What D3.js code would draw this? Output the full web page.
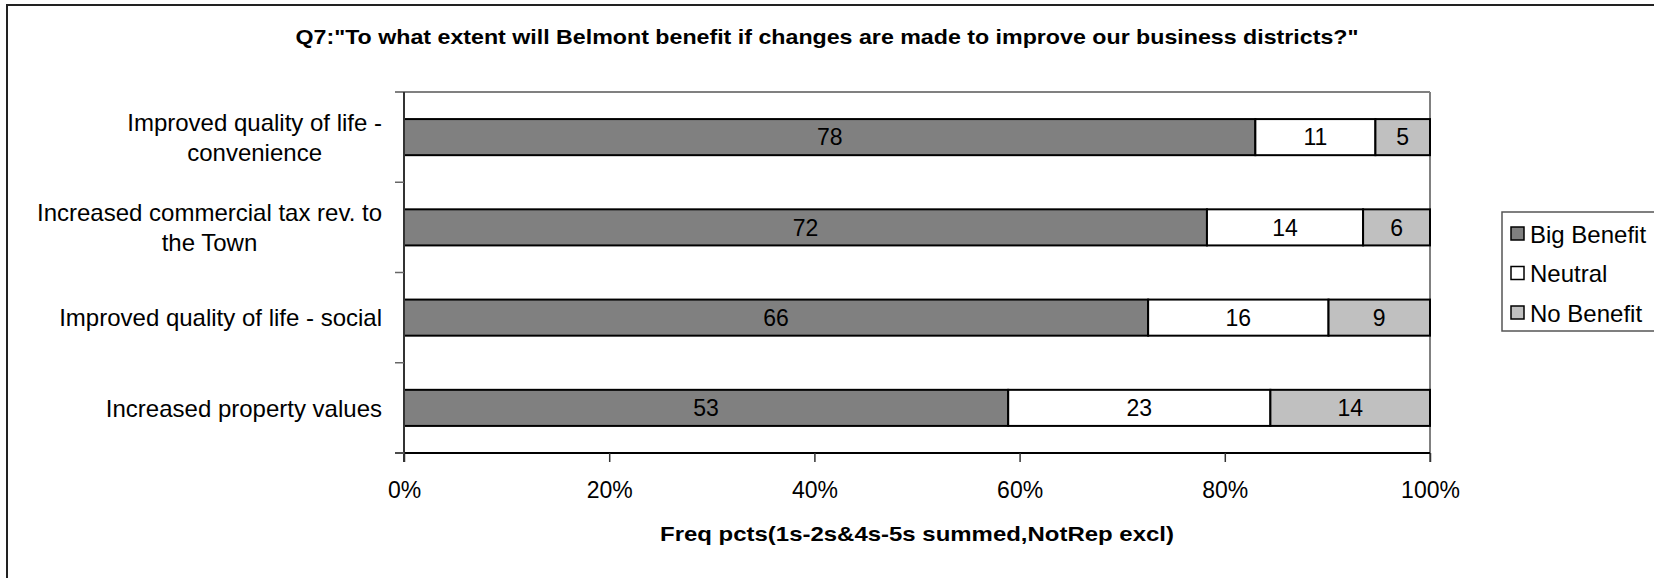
<!DOCTYPE html>
<html>
<head>
<meta charset="utf-8">
<script src="https://cdn.jsdelivr.net/npm/d3@7"></script>
<style>
  body { margin: 0; background: #fff; }
  svg { display: block; font-family: "Liberation Sans", Arial, sans-serif; }
</style>
</head>
<body>
<div id="chart"></div>
<script>
// data
const categories = [
        ['Improved quality of life -', 'convenience'],
        ['Increased commercial tax rev. to', 'the Town'],
        ['Improved quality of life - social'],
        ['Increased property values']
];
const seriesNames = ['Big Benefit', 'Neutral', 'No Benefit'];
const bigBenefit = [78, 72, 66, 53];
const neutral = [11, 14, 16, 23];
const noBenefit = [5, 6, 9, 14];
const xTicks = [0, 0.2, 0.4, 0.6, 0.8, 1];
const colors = ['#808080', '#ffffff', '#c0c0c0'];

const W = 1654, H = 578;
const plotLeft = 404, plotRight = 1430, plotTop = 92, plotBottom = 453;

const svg = d3.select('#chart').append('svg')
        .attr('width', W)
        .attr('height', H);

// outer frame (runs off the right / bottom edge like the original)
svg.append('rect')
        .attr('x', 7).attr('y', 5)
        .attr('width', W + 20).attr('height', H + 20)
        .attr('fill', 'none')
        .attr('stroke', '#222')
        .attr('stroke-width', 2);

svg.append('text')
        .attr('x', 827).attr('y', 44)
        .attr('text-anchor', 'middle')
        .attr('font-size', 21)
        .attr('font-weight', 'bold')
        .attr('textLength', 1063)
        .attr('lengthAdjust', 'spacingAndGlyphs')
        .text('Q7:"To what extent will Belmont benefit if changes are made to improve our business districts?"');

const x = d3.scaleLinear().domain([0, 1]).range([plotLeft, plotRight]);
const y = d3.scaleBand().domain(d3.range(categories.length)).range([plotTop, plotBottom]).paddingInner(0.6).paddingOuter(0.3);
const yOuter = d3.scaleBand().domain(d3.range(categories.length)).range([plotTop, plotBottom]);

// rows normalised to 100%
const rows = categories.map((c, i) => {
        const vals = [bigBenefit[i], neutral[i], noBenefit[i]];
        const total = d3.sum(vals);
        let acc = 0;
        return vals.map((v, s) => {
                const seg = { i, s, v, x0: acc / total, x1: (acc + v) / total };
                acc += v;
                return seg;
        });
});

// plot border (gray top/right)
svg.append('line').attr('x1', plotLeft - 9).attr('x2', plotRight).attr('y1', plotTop).attr('y2', plotTop)
        .attr('stroke', '#808080').attr('stroke-width', 2);
svg.append('line').attr('x1', plotRight).attr('x2', plotRight).attr('y1', plotTop).attr('y2', plotBottom + 9)
        .attr('stroke', '#808080').attr('stroke-width', 2);

// bars
const segs = svg.append('g').selectAll('g')
        .data(rows.flat())
        .join('g');

segs.append('rect')
        .attr('x', d => x(d.x0))
        .attr('width', d => x(d.x1) - x(d.x0))
        .attr('y', d => y(d.i))
        .attr('height', y.bandwidth())
        .attr('fill', d => colors[d.s])
        .attr('stroke', '#000')
        .attr('stroke-width', 2);

segs.append('text')
        .attr('x', d => (x(d.x0) + x(d.x1)) / 2)
        .attr('y', d => y(d.i) + y.bandwidth() / 2)
        .attr('dy', '0.36em')
        .attr('text-anchor', 'middle')
        .attr('font-size', 23)
        .text(d => d.v);

// x axis
const xAxis = svg.append('g')
        .attr('transform', `translate(0,${plotBottom})`)
        .call(d3.axisBottom(x).tickValues(xTicks).tickFormat(d3.format('.0%')).tickSize(9).tickSizeOuter(0));
xAxis.select('.domain').attr('stroke', '#000').attr('stroke-width', 2).attr('d', `M${plotLeft - 9},0H${plotRight}`);
xAxis.selectAll('.tick line').attr('stroke', '#333').attr('stroke-width', 1.5);
xAxis.selectAll('.tick text')
        .attr('font-family', '"Liberation Sans", Arial, sans-serif')
        .attr('font-size', 23)
        .attr('fill', '#000')
        .attr('y', 29);

// y axis: ticks at band boundaries
svg.append('line').attr('x1', plotLeft).attr('x2', plotLeft).attr('y1', plotTop).attr('y2', plotBottom + 9)
        .attr('stroke', '#333').attr('stroke-width', 2);
svg.append('g').selectAll('line')
        .data(d3.range(categories.length))
        .join('line')
        .attr('x1', plotLeft - 9).attr('x2', plotLeft)
        .attr('y1', d => yOuter(d) + yOuter.bandwidth())
        .attr('y2', d => yOuter(d) + yOuter.bandwidth())
        .attr('stroke', '#666').attr('stroke-width', 1.5);

// category labels: lines centred on each other, block right-aligned
const lineH = 30;
categories.forEach((lines, i) => {
        const g = svg.append('g');
        const cy = y(i) + y.bandwidth() / 2;
        const t = g.selectAll('text').data(lines).join('text')
                .attr('y', (d, k) => cy + (k - (lines.length - 1) / 2) * lineH)
                .attr('dy', '0.36em')
                .attr('text-anchor', 'middle')
                .attr('font-size', 24)
                .text(d => d);
        const maxW = d3.max(t.nodes(), n => n.getComputedTextLength());
        t.attr('x', 382 - maxW / 2);
});

// x axis title
svg.append('text')
        .attr('x', (plotLeft + plotRight) / 2).attr('y', 533)
        .attr('dy', '0.36em')
        .attr('text-anchor', 'middle')
        .attr('font-size', 21)
        .attr('font-weight', 'bold')
        .attr('textLength', 514)
        .attr('lengthAdjust', 'spacingAndGlyphs')
        .text('Freq pcts(1s-2s&4s-5s summed,NotRep excl)');

// legend
const legend = svg.append('g');
legend.append('rect')
        .attr('x', 1502).attr('y', 212)
        .attr('width', 200).attr('height', 119)
        .attr('fill', '#fff')
        .attr('stroke', '#555')
        .attr('stroke-width', 1.5);
const items = legend.selectAll('g.item')
        .data(seriesNames)
        .join('g')
        .attr('class', 'item')
        .attr('transform', (d, k) => `translate(1511,${234 + k * 39.5})`);
items.append('rect')
        .attr('x', 0).attr('y', -7)
        .attr('width', 13).attr('height', 13)
        .attr('fill', (d, k) => colors[k])
        .attr('stroke', '#000')
        .attr('stroke-width', 1.5);
items.append('text')
        .attr('x', 19).attr('dy', '0.36em')
        .attr('font-size', 24)
        .text(d => d);
</script>
</body>
</html>
